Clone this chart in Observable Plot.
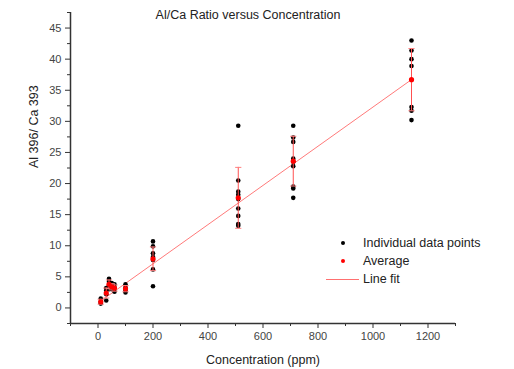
<!DOCTYPE html>
<html>
<head>
<meta charset="utf-8">
<script src="https://cdn.jsdelivr.net/npm/d3@7"></script>
<script src="https://cdn.jsdelivr.net/npm/@observablehq/plot@0.6"></script>
<style>
  body { margin: 0; background: #fff; }
  #wrap { position: relative; width: 514px; height: 369px; font-family: "Liberation Sans", Arial, sans-serif; }
  #title { position: absolute; left: 0; width: 496px; top: 8px; text-align: center; font-size: 12.5px; color: #222; }
  #legend { position: absolute; left: 326px; top: 234px; font-size: 12.5px; color: #222; line-height: 18px; }
  #legend .row { display: flex; align-items: center; height: 18px; }
  #legend .sym { width: 37px; height: 18px; position: relative; }
  .dot { position: absolute; left: 15px; top: 7px; width: 4px; height: 4px; border-radius: 50%; }
  .ln { position: absolute; left: 0px; top: 9px; width: 33px; height: 1px; background: #ff7070; }
</style>
</head>
<body>
<div id="wrap">
  <div id="chart"></div>
  <div id="title">Al/Ca Ratio versus Concentration</div>
  <div id="legend">
    <div class="row"><div class="sym"><div class="dot" style="background:#000"></div></div><span>Individual data points</span></div>
    <div class="row"><div class="sym"><div class="dot" style="background:#f00"></div></div><span>Average</span></div>
    <div class="row"><div class="sym"><div class="ln"></div></div><span>Line fit</span></div>
  </div>
</div>
<script>
// Concentrations (ppm)
const concentrations = [10, 30, 40, 50, 60, 100, 200, 510, 710, 1140];
// Individual Al/Ca ratio measurements per concentration
const individualValues = [
  [1.5, 1.0, 0.7],
  [3.2, 2.8, 2.2, 1.2],
  [4.7, 4.2, 3.6, 3.0],
  [4.0, 3.6, 3.0],
  [3.8, 3.3, 2.6],
  [3.8, 3.3, 2.9, 2.5],
  [10.7, 9.9, 8.8, 8.2, 7.7, 6.2, 3.5],
  [29.3, 20.5, 18.7, 18.2, 17.5, 16.0, 14.8, 13.5, 13.2],
  [29.3, 27.4, 26.7, 24.0, 23.5, 22.8, 19.5, 19.2, 17.7],
  [43.0, 41.4, 40.0, 38.9, 32.3, 31.7, 30.2]
];
// Averages and standard deviations
const averages = [1.0, 2.4, 3.8, 3.4, 3.2, 3.1, 7.9, 17.7, 23.6, 36.7];
const stdDevs = [0.4, 0.8, 0.7, 0.5, 0.5, 0.5, 1.9, 4.9, 4.0, 5.0];
// Linear fit parameters
const fitSlope = 0.0315;
const fitIntercept = 0.8;
const fitRange = [5, 1140];
// Tick values
const xTicks = [0, 200, 400, 600, 800, 1000, 1200];
const xMinorTicks = [-100, 100, 300, 500, 700, 900, 1100, 1300];
const yTicks = [0, 5, 10, 15, 20, 25, 30, 35, 40, 45];
const yMinorTicks = [-2.5, 2.5, 7.5, 12.5, 17.5, 22.5, 27.5, 32.5, 37.5, 42.5, 47.5];
const xLabel = "Concentration (ppm)";
const yLabel = "Al 396/ Ca 393";

const points = concentrations.flatMap((c, i) => individualValues[i].map(v => ({x: c, y: v})));
const avg = concentrations.map((c, i) => ({x: c, y: averages[i], lo: averages[i] - stdDevs[i], hi: averages[i] + stdDevs[i]}));
const fit = fitRange.map(x => ({x, y: fitIntercept + fitSlope * x}));

const capSymbol = {
  draw(context, size) {
    const r = Math.sqrt(size) / 2;
    context.moveTo(-r, 0);
    context.lineTo(r, 0);
  }
};

const axisColor = "#333";
const chart = Plot.plot({
  width: 514,
  height: 369,
  marginLeft: 70,
  marginRight: 59,
  marginTop: 12,
  marginBottom: 46,
  style: {fontFamily: "'Liberation Sans', Arial, sans-serif", fontSize: "11px", color: axisColor, background: "#fff"},
  x: {domain: [-100, 1300]},
  y: {domain: [-2.5, 47.5]},
  marks: [
    Plot.axisX({ticks: xTicks, tickFormat: d => String(d), tickSize: 5, tickPadding: 4, label: null, fontSize: 11, stroke: axisColor, fill: "#444"}),
    Plot.axisX({ticks: xMinorTicks, tickSize: 3, text: null, label: null, stroke: axisColor}),
    Plot.axisY({ticks: yTicks, tickFormat: d => String(d), tickSize: 5, tickPadding: 4, label: null, fontSize: 11, stroke: axisColor, fill: "#444"}),
    Plot.axisY({ticks: yMinorTicks, tickSize: 3, text: null, label: null, stroke: axisColor}),
    Plot.text([xLabel], {frameAnchor: "bottom", dy: 40, fontSize: 12.5, fill: "#222", text: d => d}),
    Plot.text([yLabel], {frameAnchor: "left", rotate: -90, dx: -37, fontSize: 12.5, fill: "#222", text: d => d}),
    Plot.ruleX([-100], {stroke: axisColor, strokeWidth: 1.5}),
    Plot.ruleY([-2.5], {stroke: axisColor, strokeWidth: 1.5}),
    Plot.line(fit, {x: "x", y: "y", stroke: "#ff7a7a", strokeWidth: 1}),
    Plot.dot(points, {x: "x", y: "y", r: 2.3, fill: "#000", stroke: "none"}),
    Plot.ruleX(avg, {x: "x", y1: "lo", y2: "hi", stroke: "#ff5050", strokeWidth: 1}),
    Plot.dot(avg, {x: "x", y: "lo", symbol: capSymbol, r: 3.5, stroke: "#ff8080", strokeWidth: 1}),
    Plot.dot(avg, {x: "x", y: "hi", symbol: capSymbol, r: 3.5, stroke: "#ff8080", strokeWidth: 1}),
    Plot.dot(avg, {x: "x", y: "y", r: 2.6, fill: "#f00", stroke: "none"})
  ]
});
document.getElementById("chart").appendChild(chart);
</script>
</body>
</html>
